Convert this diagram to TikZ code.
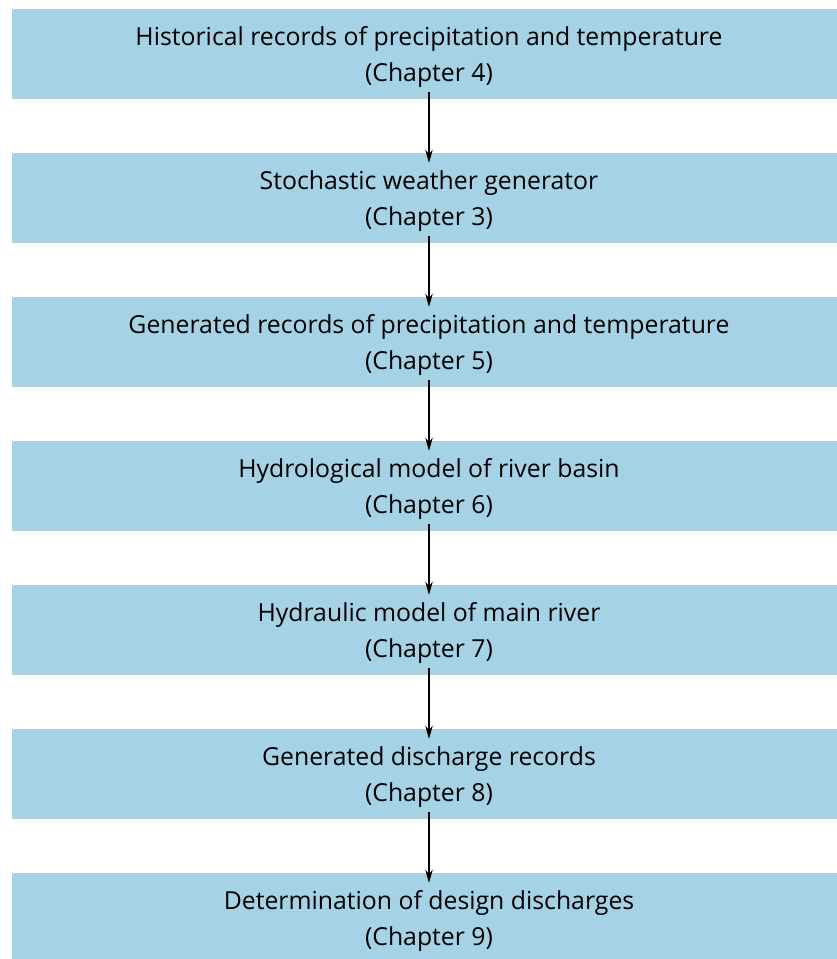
\documentclass[tikz,border=0pt]{standalone}
\usepackage{fontspec}
\setmainfont{Open Sans}
\usetikzlibrary{arrows.meta}
\definecolor{boxblue}{RGB}{166,210,230}
\newcommand{\toppad}{\rule{0pt}{24pt}}
\begin{document}
\begin{tikzpicture}[x=1pt,y=1pt,
  stage/.style={fill=boxblue, draw=none, minimum width=834pt, minimum height=90pt,
    inner sep=0pt, align=center, font=\fontsize{24.8}{36}\selectfont},
  flow/.style={-{Stealth[length=13pt,width=7.5pt]}, line width=1.2pt, black}]
\useasboundingbox (0,0) rectangle (837,-959);
\begin{scope}
\clip (0,0) rectangle (837,-959);
\node[stage] (b1) at (429,-54) {\toppad Historical records of precipitation and temperature\\(Chapter 4)};
\node[stage] (b2) at (429,-198) {\toppad Stochastic weather generator\\(Chapter 3)};
\node[stage] (b3) at (429,-342) {\toppad Generated records of precipitation and temperature\\(Chapter 5)};
\node[stage] (b4) at (429,-486) {\toppad Hydrological model of river basin\\(Chapter 6)};
\node[stage] (b5) at (429,-630) {\toppad Hydraulic model of main river\\(Chapter 7)};
\node[stage] (b6) at (429,-774) {\toppad Generated discharge records\\(Chapter 8)};
\node[stage] (b7) at (429,-918) {\toppad Determination of design discharges\\(Chapter 9)};
\end{scope}
\foreach \a/\b in {b1/b2,b2/b3,b3/b4,b4/b5,b5/b6,b6/b7}
  \draw[flow] ([yshift=7pt]\a.south) -- ([yshift=-10pt]\b.north);
\end{tikzpicture}
\end{document}
